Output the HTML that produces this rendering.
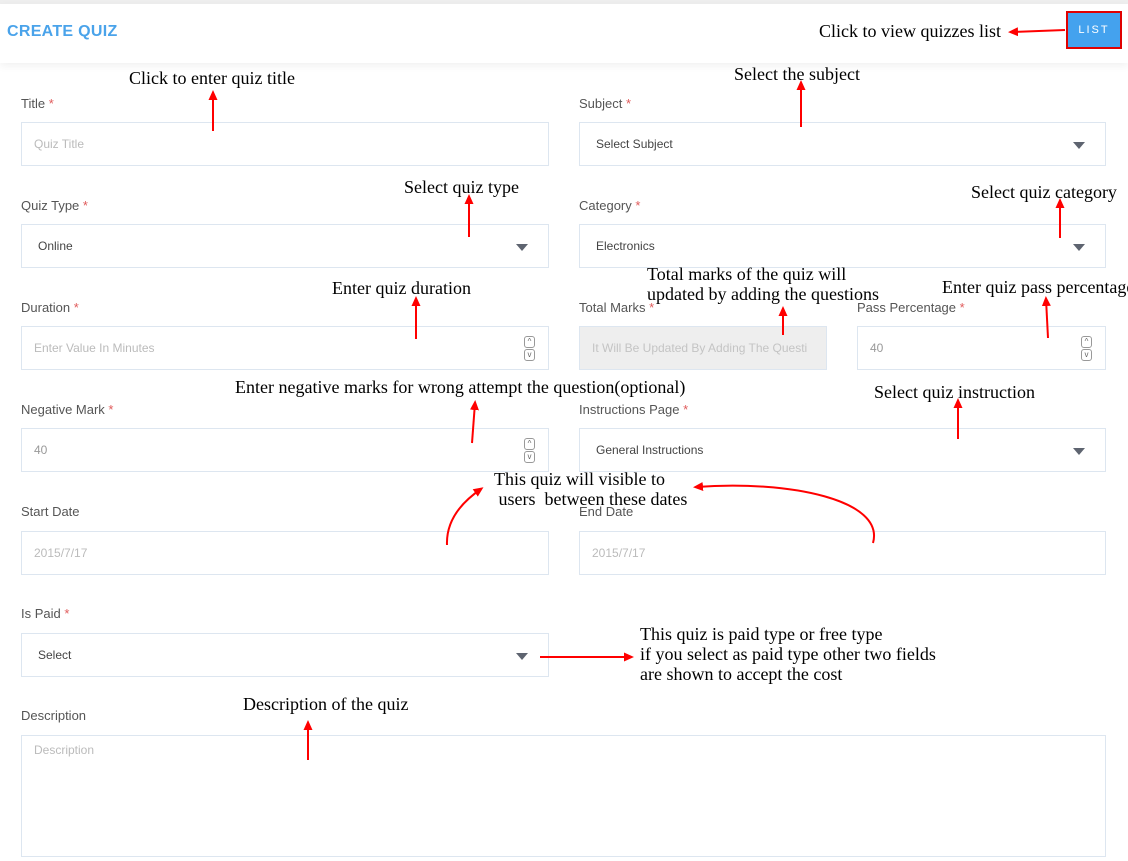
<!DOCTYPE html>
<html><head><meta charset="utf-8"><style>
body{margin:0;width:1128px;height:861px;background:#fff;position:relative;overflow:hidden;font-family:"Liberation Sans",sans-serif}
.top{position:absolute;left:0;top:0;width:1128px;height:4px;background:#eee}
.hdr{position:absolute;left:0;top:4px;width:1128px;height:59px;background:#fff;box-shadow:0 3px 8px rgba(0,0,0,0.06)}
.ttl{position:absolute;left:7px;top:23px;color:#4aa3ea;font-size:16px;font-weight:bold;letter-spacing:.3px}
.list{position:absolute;left:1066px;top:11px;width:52px;height:34px;background:#44a2ee;border:2px solid #e00000;color:#fff;font-size:11px;letter-spacing:2px;text-align:center;line-height:34px;box-sizing:content-box}
.lbl{position:absolute;font-size:13px;color:#555}
.lbl i{color:#e05a5a;font-style:normal}
.box{position:absolute;border:1px solid #dde6f0;background:#fff;font-size:12px;color:#bbb;line-height:42px;padding-left:12px;box-sizing:border-box;height:44px}
.dk{color:#444;padding-left:16px}
.caret{position:absolute;right:20px;top:19px;width:0;height:0;border-left:6px solid transparent;border-right:6px solid transparent;border-top:7px solid #5e6470}
.spin{position:absolute;right:13px;top:9px;width:11px;height:24px}
.spin b{display:block;width:9px;height:10px;border:1px solid #999;border-radius:3px;margin-bottom:1px;font-size:8px;line-height:9px;text-align:center;color:#666;font-weight:normal}
.n{position:absolute;font-family:"Liberation Serif",serif;font-size:18px;color:#000;white-space:nowrap;line-height:20px}
svg{position:absolute;left:0;top:0}
</style></head><body>
<div class="top"></div>
<div class="hdr"></div>
<div class="ttl">CREATE QUIZ</div>
<div class="list">LIST</div>

<div class="lbl" style="left:21px;top:96px">Title <i>*</i></div>
<div class="box" style="left:21px;top:122px;width:528px">Quiz Title</div>
<div class="lbl" style="left:579px;top:96px">Subject <i>*</i></div>
<div class="box dk" style="left:579px;top:122px;width:527px">Select Subject<span class="caret"></span></div>

<div class="lbl" style="left:21px;top:198px">Quiz Type <i>*</i></div>
<div class="box dk" style="left:21px;top:224px;width:528px">Online<span class="caret"></span></div>
<div class="lbl" style="left:579px;top:198px">Category <i>*</i></div>
<div class="box dk" style="left:579px;top:224px;width:527px">Electronics<span class="caret"></span></div>

<div class="lbl" style="left:21px;top:300px">Duration <i>*</i></div>
<div class="box" style="left:21px;top:326px;width:528px">Enter Value In Minutes<div class="spin"><b>^</b><b>v</b></div></div>
<div class="lbl" style="left:579px;top:300px">Total Marks <i>*</i></div>
<div class="box" style="left:579px;top:326px;width:248px;background:#eee;color:#c4c4c4">It Will Be Updated By Adding The Questi</div>
<div class="lbl" style="left:857px;top:300px">Pass Percentage <i>*</i></div>
<div class="box" style="left:857px;top:326px;width:249px;color:#999">40<div class="spin"><b>^</b><b>v</b></div></div>

<div class="lbl" style="left:21px;top:402px">Negative Mark <i>*</i></div>
<div class="box" style="left:21px;top:428px;width:528px;color:#999">40<div class="spin"><b>^</b><b>v</b></div></div>
<div class="lbl" style="left:579px;top:402px">Instructions Page <i>*</i></div>
<div class="box dk" style="left:579px;top:428px;width:527px">General Instructions<span class="caret"></span></div>

<div class="lbl" style="left:21px;top:504px">Start Date</div>
<div class="box" style="left:21px;top:531px;width:528px">2015/7/17</div>
<div class="lbl" style="left:579px;top:504px">End Date</div>
<div class="box" style="left:579px;top:531px;width:527px">2015/7/17</div>

<div class="lbl" style="left:21px;top:606px">Is Paid <i>*</i></div>
<div class="box dk" style="left:21px;top:633px;width:528px">Select<span class="caret"></span></div>

<div class="lbl" style="left:21px;top:708px">Description</div>
<div class="box" style="left:21px;top:735px;width:1085px;height:122px;line-height:28px">Description</div>

<div class="n" style="left:819px;top:21px">Click to view quizzes list</div>
<div class="n" style="left:129px;top:68px">Click to enter quiz title</div>
<div class="n" style="left:734px;top:64px">Select the subject</div>
<div class="n" style="left:404px;top:177px">Select quiz type</div>
<div class="n" style="left:971px;top:182px">Select quiz category</div>
<div class="n" style="left:332px;top:278px">Enter quiz duration</div>
<div class="n" style="left:647px;top:264px">Total marks of the quiz will<br>updated by adding the questions</div>
<div class="n" style="left:942px;top:277px">Enter quiz pass percentage</div>
<div class="n" style="left:235px;top:377px">Enter negative marks for wrong attempt the question(optional)</div>
<div class="n" style="left:874px;top:382px">Select quiz instruction</div>
<div class="n" style="left:494px;top:469px">This quiz will visible to<br>&nbsp;users &nbsp;between these dates</div>
<div class="n" style="left:640px;top:624px">This quiz is paid type or free type<br>if you select as paid type other two fields<br>are shown to accept the cost</div>
<div class="n" style="left:243px;top:694px">Description of the quiz</div>

<svg width="1128" height="861">
<defs><marker id="a" markerWidth="10" markerHeight="10" refX="7" refY="5" orient="auto" markerUnits="userSpaceOnUse"><path d="M0,0.5 L10,5 L0,9.5 z" fill="#f00"/></marker></defs>
<g stroke="#f00" stroke-width="2" fill="none" marker-end="url(#a)">
<path d="M1065,30 L1011,32"/>
<path d="M213,131 L213,93"/>
<path d="M801,127 L801,83"/>
<path d="M469,237 L469,197"/>
<path d="M1060,238 L1060,201"/>
<path d="M416,339 L416,299"/>
<path d="M783,335 L783,309"/>
<path d="M1048,338 L1046,299"/>
<path d="M472,443 L475,403"/>
<path d="M958,439 L958,401"/>
<path d="M447,545 C446,520 462,502 481,489"/>
<path d="M873,543 C885,500 790,480 696,487"/>
<path d="M540,657 L631,657"/>
<path d="M308,760 L308,723"/>
</g></svg>
</body></html>
